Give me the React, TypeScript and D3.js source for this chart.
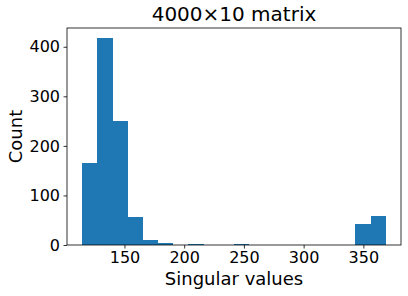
import { useRef, useEffect } from 'react'
import * as d3 from 'd3'

// histogram of singular values, 20 equal bins
const binStart = 114.6
const binEnd = 368.8
const counts = [165, 417, 250, 56, 10, 4, 0, 2, 0, 0, 2, 0, 0, 0, 0, 0, 0, 0, 42, 58]
const xTicks = [150, 200, 250, 300, 350]
const yTicks = [0, 100, 200, 300, 400]

const W = 408
const H = 296
const margin = { left: 67, right: 7, top: 28, bottom: 51 }
const BLUE = '#1f77b4'
const FONT = 'DejaVu Sans, sans-serif'

export default function App() {
  const svgRef = useRef<SVGSVGElement>(null)

  useEffect(() => {
    if (!svgRef.current) return
    const svg = d3.select(svgRef.current)
    svg.selectAll('*').remove()

    const bw = W - margin.left - margin.right
    const bh = H - margin.top - margin.bottom
    const step = (binEnd - binStart) / counts.length
    const pad = (binEnd - binStart) * 0.05

    const x = d3.scaleLinear().domain([binStart - pad, binEnd + pad]).range([0, bw])
    const y = d3
      .scaleLinear()
      .domain([0, d3.max(counts)! * 1.05])
      .range([bh, 0])

    const g = svg.append('g').attr('transform', `translate(${margin.left},${margin.top})`)

    // bars
    g.selectAll('rect.bar')
      .data(counts)
      .enter()
      .append('rect')
      .attr('class', 'bar')
      .attr('x', (_, i) => x(binStart + i * step))
      .attr('width', (_, i) => x(binStart + (i + 1) * step) - x(binStart + i * step))
      .attr('y', (d) => y(d))
      .attr('height', (d) => bh - y(d))
      .attr('fill', BLUE)
      .attr('shape-rendering', 'crispEdges')

    // frame
    g.append('rect')
      .attr('width', bw)
      .attr('height', bh)
      .attr('fill', 'none')
      .attr('stroke', '#000')
      .attr('stroke-width', 0.8)

    const xAxis = g
      .append('g')
      .attr('transform', `translate(0,${bh})`)
      .call(d3.axisBottom(x).tickValues(xTicks).tickSize(3.5).tickPadding(3.5))
    const yAxis = g.append('g').call(d3.axisLeft(y).tickValues(yTicks).tickSize(3.5).tickPadding(3.5))

    ;[xAxis, yAxis].forEach((a) => {
      a.select('.domain').remove()
      a.selectAll('line').attr('stroke', '#000').attr('stroke-width', 0.8)
      a.selectAll('text').attr('fill', '#000').style('font-family', FONT).style('font-size', '16px')
    })

    svg
      .append('text')
      .attr('x', margin.left + bw / 2)
      .attr('y', 21)
      .attr('text-anchor', 'middle')
      .style('font-family', FONT)
      .style('font-size', '20px')
      .text('4000×10 matrix')

    svg
      .append('text')
      .attr('x', margin.left + bw / 2)
      .attr('y', 285)
      .attr('text-anchor', 'middle')
      .style('font-family', FONT)
      .style('font-size', '18px')
      .text('Singular values')

    svg
      .append('text')
      .attr('transform', `translate(22,${margin.top + bh / 2}) rotate(-90)`)
      .attr('text-anchor', 'middle')
      .style('font-family', FONT)
      .style('font-size', '18px')
      .text('Count')
  }, [])

  return (
    <svg
      ref={svgRef}
      width={W}
      height={H}
      style={{ position: 'absolute', left: 0, top: 0, background: '#fff' }}
    />
  )
}
